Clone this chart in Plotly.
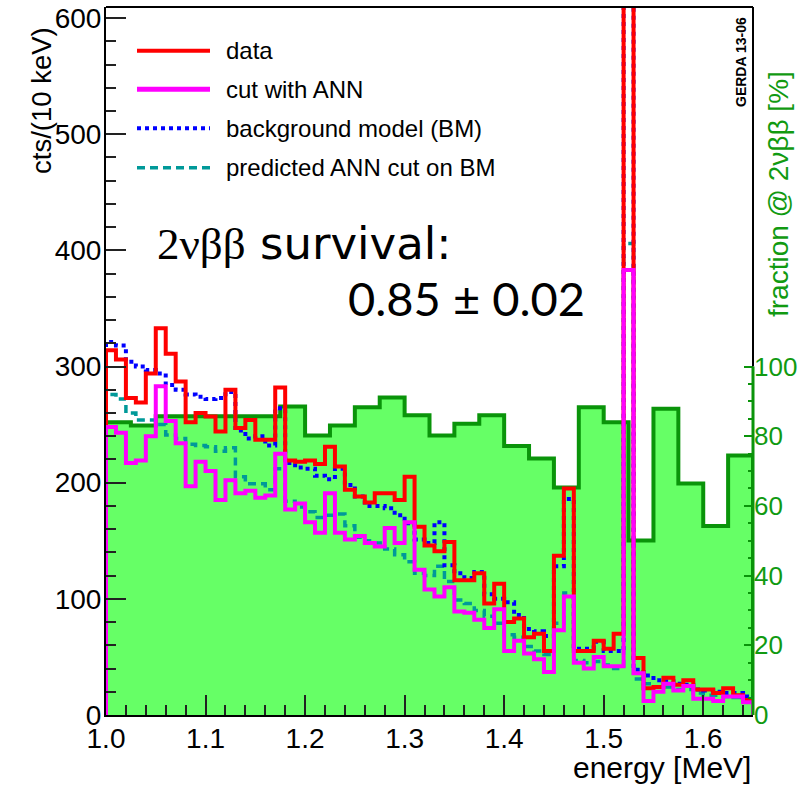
import numpy as np
import plotly.graph_objects as go

# ---------------- data ----------------
# fine binning: 10 keV bins from 1.00 MeV
fine_start = 1.00
fine_width = 0.01
data_counts = [314, 306, 273, 269, 294, 333, 311, 287, 252, 260,
               257, 244, 280, 247, 254, 237, 237, 282, 219, 218,
               219, 216, 231, 214, 194, 188, 183, 191, 191, 185,
               205, 162, 146, 141, 149, 116, 116, 122, 96, 113,
               80, 83, 67, 70, 55, 137, 195, 55, 55, 64,
               57, 70, 1000, 49, 23, 24, 32, 26, 30, 22,
               22, 19, 23, 17, 13]
ann_cut_counts = [248, 243, 217, 219, 240, 283, 253, 234, 197, 218,
                  210, 185, 202, 191, 193, 187, 189, 225, 177, 182,
                  166, 157, 191, 157, 151, 154, 148, 145, 161, 148,
                  166, 125, 108, 102, 110, 89, 88, 82, 75, 91,
                  55, 64, 53, 48, 37, 73, 102, 45, 40, 50,
                  42, 42, 383, 36, 12, 20, 27, 21, 25, 14,
                  14, 12, 16, 16, 11]
bm_counts = [321, 318, 304, 300, 297, 294, 284, 280, 276, 274,
             272, 273, 278, 245, 238, 240, 232, 264, 217, 213,
             212, 206, 203, 212, 198, 188, 180, 180, 178, 172,
             165, 151, 148, 166, 129, 122, 118, 123, 104, 100,
             97, 86, 74, 72, 68, 128, 186, 57, 57, 63,
             55, 55, 700, 39, 34, 30, 29, 27, 26, 22,
             21, 20, 19, 19, 16]
bm_pred_counts = [276, 272, 260, 254, 254, 250, 241, 238, 233, 232,
                  231, 227, 230, 205, 199, 199, 194, 212, 184, 179,
                  175, 170, 172, 173, 163, 153, 150, 148, 143, 138,
                  132, 122, 120, 128, 115, 99, 96, 90, 85, 79,
                  69, 67, 59, 55, 52, 79, 105, 47, 45, 46,
                  43, 40, 406, 31, 27, 24, 24, 22, 22, 19,
                  17, 17, 16, 15, 12]

# coarse binning: 25 keV bins, fraction of 2nbb in %
coarse_start = 1.00
coarse_width = 0.025
frac_2nbb = [84.0, 83.1, 85.7, 85.7, 85.7, 85.7, 85.7, 88.5, 80.2, 83.1,
             88.3, 91.1, 86.0, 80.2, 83.6, 86.0, 77.2, 73.6, 65.3, 88.3,
             84.0, 50.1, 87.9, 66.4, 54.2, 74.5]

x_ticks = [1.0, 1.1, 1.2, 1.3, 1.4, 1.5, 1.6]
x_ticktext = ["1.0", "1.1", "1.2", "1.3", "1.4", "1.5", "1.6"]
left_ticks = [0, 100, 200, 300, 400, 500, 600]
right_ticks = [0, 20, 40, 60, 80, 100]
right_minor = [5, 10, 15, 25, 30, 35, 45, 50, 55, 65, 70, 75, 85, 90, 95]
left_max = 609.5
right_max = left_max / 3.0

legend_labels = ["data", "cut with ANN", "background model (BM)", "predicted ANN cut on BM"]


def step_xy(start, width, vals):
    n = len(vals)
    edges = [round(start + width * i, 4) for i in range(n + 1)]
    xs = [edges[0]] + edges[:-1] + [edges[-1], edges[-1]]
    ys = [0] + list(vals) + [vals[-1], 0]
    return xs, ys


GREEN_LINE = "#0a940a"
GREEN_FILL = "#66ff66"
GREEN_TXT = "#119a11"
FONT = "Liberation Sans, Arial, sans-serif"

fig = go.Figure()

gx, gy = step_xy(coarse_start, coarse_width, frac_2nbb)
fig.add_trace(go.Scatter(x=gx, y=gy, mode="lines", line=dict(shape="hv", color=GREEN_LINE, width=4),
                         fill="tozeroy", fillcolor=GREEN_FILL, yaxis="y", showlegend=False, hoverinfo="skip"))

series = [
    (bm_pred_counts, "#009999", "8px,5px", 3.5),
    (bm_counts, "#0000ff", "4px,4px", 4),
    (data_counts, "#ff0000", "solid", 4),
    (ann_cut_counts, "#ff00ff", "solid", 4),
]
for vals, col, dash, w in series:
    sx, sy = step_xy(fine_start, fine_width, vals)
    fig.add_trace(go.Scatter(x=sx, y=sy, mode="lines", line=dict(shape="hv", color=col, width=w, dash=dash),
                             yaxis="y2", showlegend=False, hoverinfo="skip"))

L, R, T, B = 106, 59, 7, 71
W, H = 812, 786
pw, ph = W - L - R, H - T - B


def px(xp):
    return (xp - L) / pw


def py(yp):
    return (H - B - yp) / ph


fig.update_layout(
    width=W, height=H,
    margin=dict(l=L, r=R, t=T, b=B, pad=0, autoexpand=False),
    plot_bgcolor="white", paper_bgcolor="white",
    showlegend=False,
    font=dict(family=FONT, color="black"),
    xaxis=dict(range=[1.0, 1.65], tickvals=x_ticks, ticktext=x_ticktext, ticks="inside", ticklen=20,
               tickwidth=2, tickcolor="#222", tickfont=dict(size=28, family=FONT), automargin=False,
               ticklabelstandoff=-3,
               minor=dict(dtick=0.02, tick0=1.0, ticks="inside", ticklen=10, tickwidth=2, tickcolor="#222"),
               showline=True, linecolor="black", linewidth=2, showgrid=False, zeroline=False),
    yaxis=dict(range=[0, right_max], side="right", tickvals=right_ticks, ticks="inside", ticklen=9, tickwidth=2,
               tickcolor=GREEN_LINE, tickfont=dict(size=26, color=GREEN_TXT, family=FONT), automargin=False,
               minor=dict(tickvals=right_minor, ticks="inside", ticklen=5, tickwidth=2, tickcolor=GREEN_LINE),
               showline=False, showgrid=False, zeroline=False),
    yaxis2=dict(range=[0, left_max], overlaying="y", side="left", tickvals=left_ticks, ticks="inside", ticklen=20,
                tickwidth=2, tickcolor="#222", tickfont=dict(size=28, family=FONT), automargin=False,
                ticklabelstandoff=-3,
                minor=dict(dtick=20, tick0=0, ticks="inside", ticklen=10, tickwidth=2, tickcolor="#222"),
                showline=True, linecolor="black", linewidth=2, showgrid=False, zeroline=False),
)

split = 100 / right_max
shapes = [
    dict(type="line", xref="paper", yref="paper", x0=0, x1=1, y0=1, y1=1, line=dict(color="black", width=2)),
    dict(type="line", xref="paper", yref="paper", x0=1, x1=1, y0=split, y1=1, line=dict(color="black", width=2)),
    dict(type="line", xref="paper", yref="paper", x0=1, x1=1, y0=0, y1=split, line=dict(color=GREEN_LINE, width=3)),
]
leg_rows = [50.7, 89.3, 128.3, 167.7]
leg_styles = [("#ff0000", "solid", 4), ("#ff00ff", "solid", 5), ("#0000ff", "4px,4px", 4), ("#009999", "8px,5px", 3.5)]
annotations = []
for yy, (col, dash, w), lab in zip(leg_rows, leg_styles, legend_labels):
    shapes.append(dict(type="line", xref="paper", yref="paper", x0=px(137), x1=px(210), y0=py(yy), y1=py(yy),
                       line=dict(color=col, width=w, dash=dash)))
    annotations.append(dict(text=lab, xref="paper", yref="paper", x=px(224), y=py(yy), xanchor="left",
                            yanchor="middle", showarrow=False, font=dict(size=24, family=FONT, color="black")))

annotations += [
    dict(text="cts/(10 keV)", xref="paper", yref="paper", x=px(41), y=py(101), textangle=-90,
         xanchor="center", yanchor="middle",
         showarrow=False, font=dict(size=27.5, family=FONT, color="black")),
    dict(text="fraction @ 2νββ [%]", xref="paper", yref="paper", x=px(778), y=py(194), textangle=-90,
         xanchor="center", yanchor="middle",
         showarrow=False, font=dict(size=28, family=FONT, color=GREEN_TXT)),
    dict(text="energy [MeV]", xref="paper", yref="paper", x=px(753), y=py(767), xanchor="right",
         yanchor="middle",
         showarrow=False, font=dict(size=30, family=FONT, color="black")),
    dict(text="<b>GERDA 13-06</b>", xref="paper", yref="paper", x=px(741), y=py(62), textangle=-90,
         xanchor="center", yanchor="middle",
         showarrow=False, font=dict(size=14, family=FONT, color="black")),
    dict(text="<span style='font-family:Liberation Serif, serif'>2νββ</span> survival:", xref="paper", yref="paper",
         x=px(155), y=py(243), xanchor="left", yanchor="middle",
         showarrow=False, font=dict(size=45, family="DejaVu Sans, sans-serif", color="black")),
    dict(text="0.85 ± 0.02", xref="paper", yref="paper", x=px(346), y=py(298), xanchor="left", yanchor="middle",
         showarrow=False, font=dict(size=47, family="Lato, sans-serif", color="black")),
]
fig.update_layout(shapes=shapes, annotations=annotations)

fig.write_html("out.html")
